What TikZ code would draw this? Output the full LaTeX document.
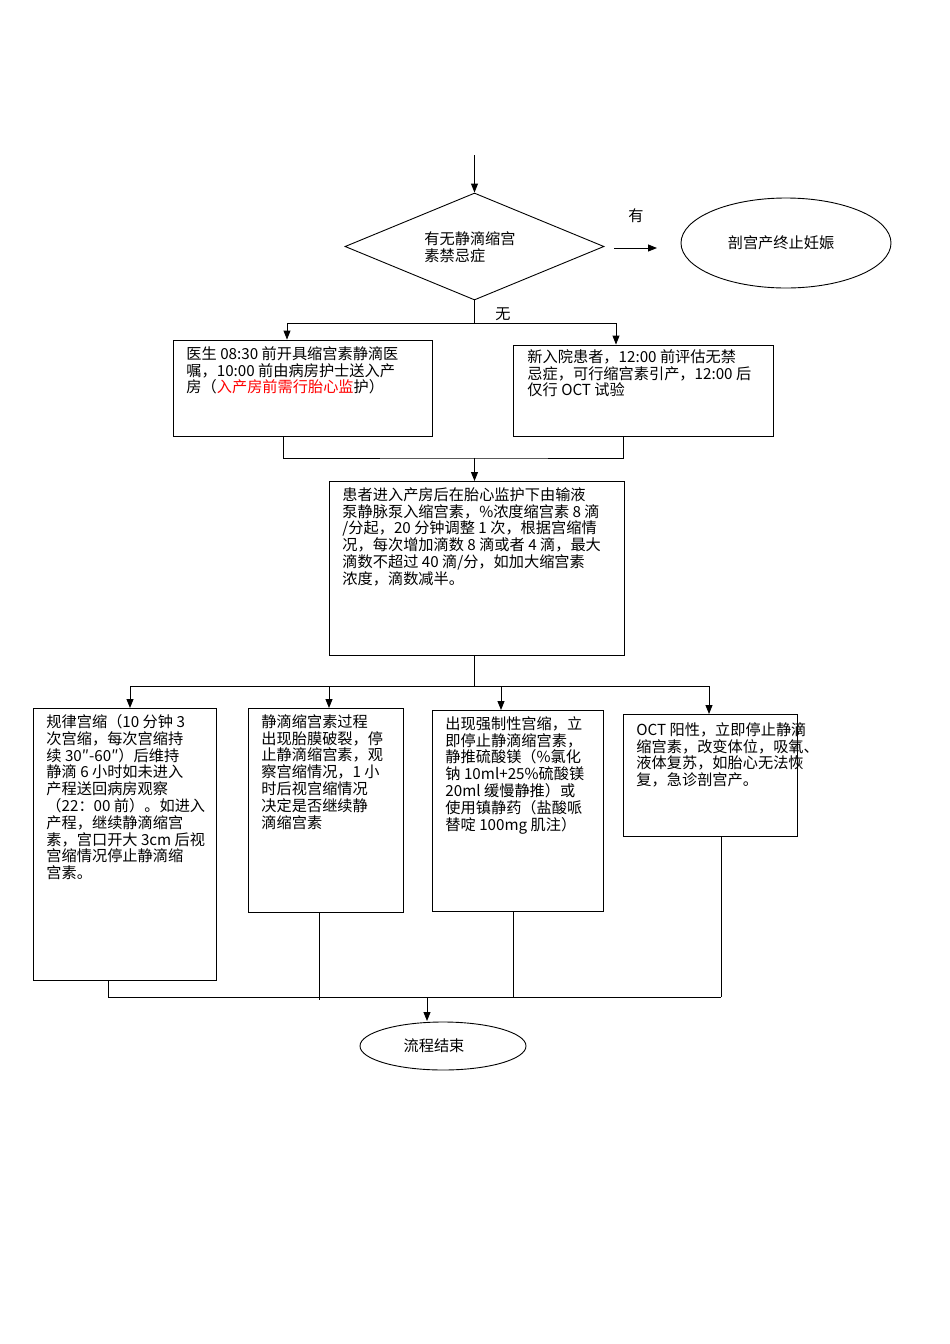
\documentclass[tikz,border=0pt]{standalone}
\usepackage{fontspec}
\setmainfont{Noto Sans CJK SC}
\usetikzlibrary{shapes.geometric,arrows.meta}
\begin{document}
\begin{tikzpicture}[x=1pt,y=-1pt,line width=0.9pt,
  bx/.style={draw,rectangle,inner sep=0pt},
  tx/.style={anchor=north west,align=left,inner sep=0pt,font=\fontsize{15.2pt}{16.8pt}\selectfont},
  arr/.style={-{Triangle[length=9pt,width=7pt]}}]
\useasboundingbox (0,0) rectangle (950,1344);
\node[draw,diamond,minimum width=259pt,minimum height=107pt,inner sep=0pt,aspect=2.4] (dia) at (474.5,246.5) {};
\node[tx,anchor=center,align=left] (diat) at (470,247) {有无静滴缩宫\\素禁忌症};
\coordinate (top) at (474.5,155);
\draw[arr] (top) -- (dia.north);
\node[draw,ellipse,minimum width=210pt,minimum height=90pt,inner sep=0pt] (cs) at (786,243) {};
\node[tx,anchor=center] (cst) at (781,243) {剖宫产终止妊娠};
\coordinate (ya) at (614,248); \coordinate (yb) at (657,248);
\draw[arr] (ya) -- (yb);
\node[tx,anchor=center] (you) at (636,216) {有};
\node[tx,anchor=center] (wu) at (503,314) {无};
% row 1 boxes
\node[bx,minimum width=259pt,minimum height=96pt] (b1) at (302.5,388) {};
\node[tx] at (186,346) {医生 08:30 前开具缩宫素静滴医\\嘱，10:00 前由病房护士送入产\\房（\textcolor{red}{入产房前需行胎心监}护）};
\node[bx,minimum width=260pt,minimum height=91pt] (b2) at (643,390.5) {};
\node[tx] at (527,349) {新入院患者，12:00 前评估无禁\\忌症，可行缩宫素引产，12:00 后\\仅行 OCT 试验};
\coordinate (s1) at (474.5,323);
\draw (dia.south) -- (s1);
\draw[arr] (s1) -| ([xshift=-15.5pt]b1.north);
\draw[arr] (s1) -| ([xshift=-27pt]b2.north);
% merge
\coordinate (m1) at (474.5,458);
\draw ([xshift=-19.5pt]b1.south) |- (m1) -| ([xshift=-20pt]b2.south);
\node[bx,minimum width=295pt,minimum height=174pt] (b3) at (476.5,568) {};
\draw[arr] (m1) -- (474.5,481);
\node[tx] at (342,487) {患者进入产房后在胎心监护下由输液\\泵静脉泵入缩宫素，\%浓度缩宫素 8 滴\\/分起，20 分钟调整 1 次，根据宫缩情\\况，每次增加滴数 8 滴或者 4 滴，最大\\滴数不超过 40 滴/分，如加大缩宫素\\浓度，滴数减半。};
% row 3
\coordinate (s3) at (474.5,686);
\draw ([xshift=-2pt]b3.south) -- (s3);
\node[bx,minimum width=183pt,minimum height=272pt] (ba) at (124.5,844) {};
\node[bx,minimum width=155pt,minimum height=204pt] (bb) at (325.5,810) {};
\node[bx,minimum width=171pt,minimum height=201pt] (bc) at (517.5,810.5) {};
\node[bx,minimum width=174pt,minimum height=122pt] (bd) at (710,775) {};
\draw[arr] (s3) -| (130,708);
\draw[arr] (s3) -| (329,708);
\draw[arr] (s3) -| (501,710);
\draw[arr] (s3) -| (709,714);
\node[tx] at (46,714) {规律宫缩（10 分钟 3\\次宫缩，每次宫缩持\\续 30″-60″）后维持\\静滴 6 小时如未进入\\产程送回病房观察\\（22：00 前）。如进入\\产程，继续静滴缩宫\\素，宫口开大 3cm 后视\\宫缩情况停止静滴缩\\宫素。};
\node[tx] at (261,714) {静滴缩宫素过程\\出现胎膜破裂，停\\止静滴缩宫素，观\\察宫缩情况，1 小\\时后视宫缩情况\\决定是否继续静\\滴缩宫素};
\node[tx] at (445,716) {出现强制性宫缩，立\\即停止静滴缩宫素，\\静推硫酸镁（\%氯化\\钠 10ml+25\%硫酸镁\\20ml 缓慢静推）或\\使用镇静药（盐酸哌\\替啶 100mg 肌注）};
\node[tx] at (636,722) {OCT 阳性，立即停止静滴\\缩宫素，改变体位，吸氧、\\液体复苏，如胎心无法恢\\复，急诊剖宫产。};
% bottom merge
\coordinate (m2) at (427,997);
\draw (108,980) -- (108,997) -- (721,997);
\draw (319,912) -- (319,1000);
\draw (513,911) -- (513,997);
\draw (721,836) -- (721,997);
\node[draw,ellipse,minimum width=166pt,minimum height=48pt,inner sep=0pt] (end) at (443,1046) {};
\node[tx,anchor=center] at (434,1046) {流程结束};
\draw[arr] (m2) -- (427,1021);
\end{tikzpicture}
\end{document}
